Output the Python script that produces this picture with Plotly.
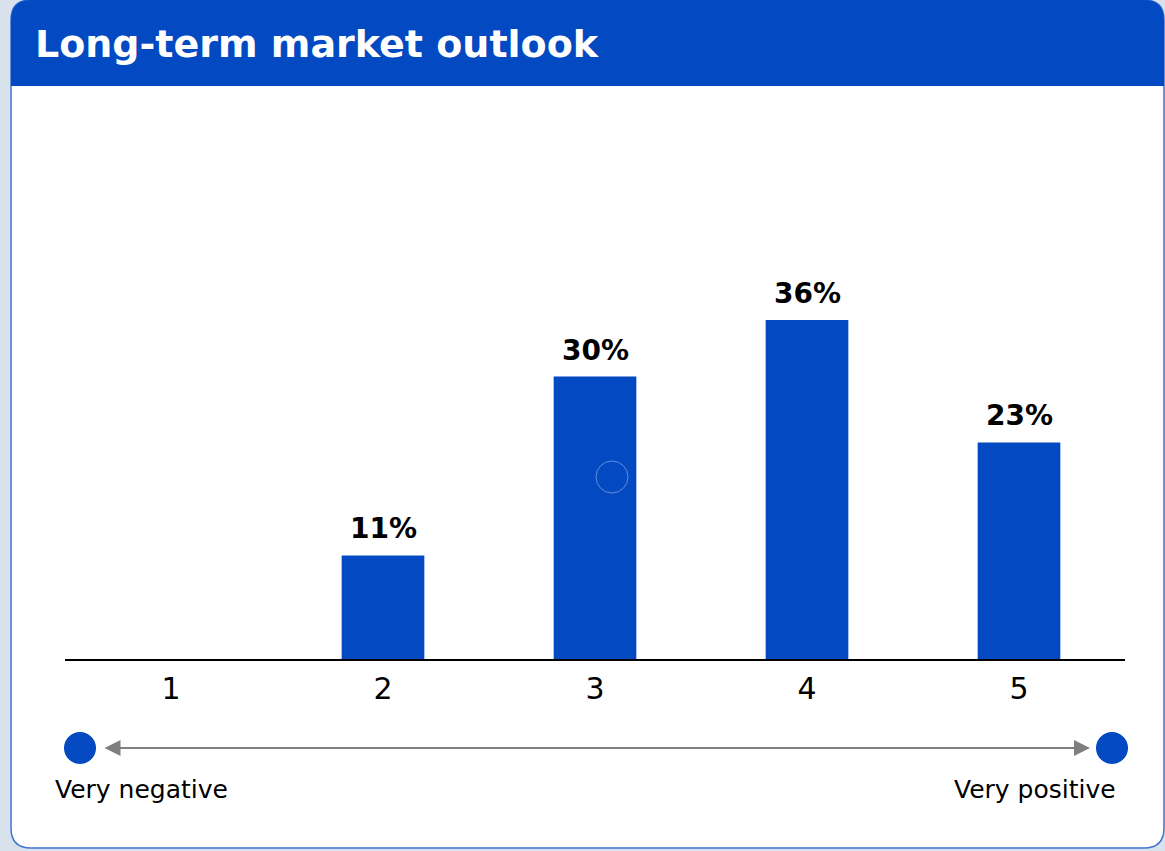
import plotly.graph_objects as go

# Survey results: share of respondents per outlook score
scores = [1, 2, 3, 4, 5]
score_labels = ["1", "2", "3", "4", "5"]
shares = [0, 11, 30, 36, 23]

title_text = "Long-term market outlook"
scale_left = "Very negative"
scale_right = "Very positive"

BLUE = "#0249C2"
FONT = "DejaVu Sans"

# Canvas and plot-area geometry (pixels)
W, H = 1165, 851
ML, MR, MT, MB = 65, 40, 94, 192
PW = W - ML - MR
PH = H - MT - MB


def px(x):
    return (x - ML) / PW


def py(y):
    return (H - MB - y) / PH


def rounded_path(x0, y0, x1, y1, rt, rb):
    pts = [
        ("M", [(x0 + rt, y0)]),
        ("L", [(x1 - rt, y0)]),
        ("Q", [(x1, y0), (x1, y0 + rt)]),
        ("L", [(x1, y1 - rb)]),
        ("Q", [(x1, y1), (x1 - rb, y1)]),
        ("L", [(x0 + rb, y1)]),
        ("Q", [(x0, y1), (x0, y1 - rb)]),
        ("L", [(x0, y0 + rt)]),
        ("Q", [(x0, y0), (x0 + rt, y0)]),
    ]
    out = []
    for cmd, ps in pts:
        out.append(cmd + " ".join(f"{px(a):.5f},{py(b):.5f}" for a, b in ps))
    return " ".join(out) + " Z"


def circle(cx, cy, r, **kw):
    return dict(type="circle", xref="paper", yref="paper",
                x0=px(cx - r), x1=px(cx + r), y0=py(cy + r), y1=py(cy - r), **kw)


fig = go.Figure()
fig.add_trace(go.Bar(
    x=scores, y=shares, width=0.39, marker=dict(color=BLUE, line=dict(width=0)),
    hoverinfo="skip",
))

shapes = [
    # card body
    dict(type="path", xref="paper", yref="paper", layer="below",
         path=rounded_path(11, 0, 1164, 848, 20, 20),
         fillcolor="white", line=dict(color="#3f74d2", width=1.5)),
    # header band
    dict(type="path", xref="paper", yref="paper", layer="below",
         path=rounded_path(11, 0, 1164, 86, 20, 0),
         fillcolor=BLUE, line=dict(width=0)),
    # scale end markers
    circle(80, 748, 16, fillcolor=BLUE, line=dict(width=0)),
    circle(1112, 748, 16, fillcolor=BLUE, line=dict(width=0)),
    # faint focus ring on the bar for score 3
    circle(612, 477, 16, fillcolor="rgba(0,0,0,0)",
           line=dict(color="rgba(140,170,230,0.7)", width=1)),
]

annotations = [
    dict(text=title_text, xref="paper", yref="paper", x=px(33), y=py(44),
         xanchor="left", yanchor="middle", showarrow=False,
         font=dict(family=FONT, size=38, color="white", weight="bold")),
    # double-headed scale arrow
    dict(text="", xref="paper", yref="paper", x=px(1090), y=py(748),
         ax=-(1090 - 103), ay=0, showarrow=True, arrowside="end+start",
         arrowhead=2, startarrowhead=2, arrowsize=1.6, startarrowsize=1.6,
         arrowwidth=2, arrowcolor="#7f7f7f", standoff=0, startstandoff=0),
    dict(text=scale_left, xref="paper", yref="paper", x=px(141), y=py(789),
         xanchor="center", yanchor="middle", showarrow=False,
         font=dict(family=FONT, size=25, color="black")),
    dict(text=scale_right, xref="paper", yref="paper", x=px(1035), y=py(789),
         xanchor="center", yanchor="middle", showarrow=False,
         font=dict(family=FONT, size=25, color="black")),
]

# value labels above each bar
for s, v in zip(scores, shares):
    if v > 0:
        annotations.append(dict(
            text=f"{v}%", x=s, y=v, xref="x", yref="y",
            xanchor="center", yanchor="bottom", yshift=8, showarrow=False,
            font=dict(family=FONT, size=28, color="black", weight="bold")))

fig.update_layout(
    width=W, height=H,
    margin=dict(l=ML, r=MR, t=MT, b=MB, pad=0),
    paper_bgcolor="#d8e2ed",
    plot_bgcolor="rgba(0,0,0,0)",
    showlegend=False,
    shapes=shapes,
    annotations=annotations,
    xaxis=dict(range=[0.5, 5.5], tickmode="array", tickvals=scores,
               ticktext=score_labels, showgrid=False, zeroline=False,
               showline=True, linecolor="black", linewidth=1.5,
               ticks="", ticklabelstandoff=2,
               tickfont=dict(family=FONT, size=30, color="black"),
               fixedrange=True),
    yaxis=dict(range=[0, 60], visible=False, fixedrange=True),
)

fig.write_html("out.html")
